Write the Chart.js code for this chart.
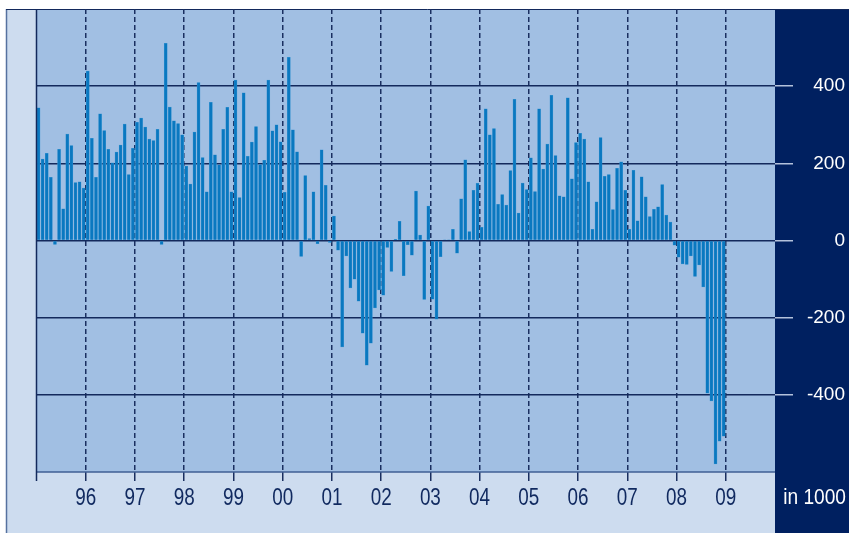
<!DOCTYPE html>
<html lang="en">
<head>
  <meta charset="UTF-8">
  <title>Monthly change in employment</title>
  <style>
    body {
      margin: 0;
      background: #fff;
    }
    #chart {
      display: block;
    }
  </style>
</head>
<body>
  <canvas id="chart" width="849" height="533"></canvas>

  <script src="https://cdn.jsdelivr.net/npm/chart.js"></script>
  <script>
    // monthly change, in 1000, Jan..Dec of each year
    const y1995 = [344, 211, 226, 164, -10, 236, 82, 276, 246, 150, 152, 136];
    const y1996 = [439, 265, 164, 328, 285, 236, 201, 229, 247, 302, 171, 239];
    const y1997 = [306, 317, 294, 263, 259, 288, -10, 511, 346, 310, 303, 274];
    const y1998 = [193, 146, 281, 409, 215, 126, 358, 222, 196, 288, 345, 126];
    const y1999 = [416, 111, 383, 218, 255, 295, 197, 208, 416, 284, 300, 256];
    const y2000 = [125, 475, 287, 230, -41, 168, 5, 126, -8, 235, 143, -5];
    const y2001 = [63, -25, -276, -40, -123, -100, -157, -240, -323, -266, -175, -128];
    const y2002 = [-142, -18, -80, 3, 50, -91, -11, -38, 128, 14, -153, 89];
    const y2003 = [-152, -204, -42, 2, 2, 29, -33, 108, 209, 23, 130, 148];
    const y2004 = [34, 341, 274, 290, 94, 119, 92, 181, 366, 71, 149, 132];
    const y2005 = [214, 127, 341, 185, 250, 376, 220, 116, 113, 370, 160, 254];
    const y2006 = [278, 263, 152, 29, 100, 267, 166, 171, 80, 187, 204, 130];
    const y2007 = [29, 182, 51, 165, 113, 62, 81, 87, 145, 66, 48, -12];
    const y2008 = [-43, -61, -62, -40, -93, -63, -120, -396, -416, -579, -520, -507];

    const yearLabels = ['96', '97', '98', '99', '00', '01', '02', '03', '04', '05', '06', '07', '08', '09'];
    const valueTicks = [-400, -200, 0, 200, 400];
    const unitLabel = 'in 1000';

    const allMonths = [].concat(y1995, y1996, y1997, y1998, y1999, y2000, y2001,
      y2002, y2003, y2004, y2005, y2006, y2007, y2008);
    // month number on a linear axis, bar sits in the middle of its month
    const points = allMonths.map((v, i) => ({ x: i + 0.5, y: v }));

    const NAVY = '#002060';
    const LIGHT = '#cddcef';
    const PLOT = '#a1bfe3';
    const LINE = '#13295c';
    const FONT = '"Liberation Sans", Arial, sans-serif';

    // draw text squeezed sideways, the original uses a narrow face
    function narrowText(ctx, text, x, y, size, squeeze, align) {
      ctx.save();
      ctx.translate(x, y);
      ctx.scale(squeeze, 1);
      ctx.font = size + 'px ' + FONT;
      ctx.textAlign = align;
      ctx.textBaseline = 'alphabetic';
      ctx.fillText(text, 0, 0);
      ctx.restore();
    }

    // backgrounds, frame, axis lines, year labels, unit text
    const framePlugin = {
      id: 'frame',
      beforeDraw(chart) {
        const { ctx, chartArea: a, width, height } = chart;
        ctx.save();
        ctx.fillStyle = '#fff';
        ctx.fillRect(0, 0, width, height);
        ctx.fillStyle = LIGHT;
        ctx.fillRect(6, a.top, a.right - 6, height - a.top);
        ctx.fillStyle = PLOT;
        ctx.fillRect(a.left, a.top, a.right - a.left, a.bottom - a.top);
        ctx.fillStyle = NAVY;
        ctx.fillRect(a.right, a.top, width - a.right, height - a.top);

        ctx.strokeStyle = '#56719f';
        ctx.lineWidth = 1.5;
        ctx.beginPath();
        ctx.moveTo(6.5, a.top);
        ctx.lineTo(6.5, height);
        ctx.stroke();

        ctx.strokeStyle = LINE;
        ctx.lineWidth = 1;
        ctx.beginPath();
        ctx.moveTo(6, a.top + 0.5);
        ctx.lineTo(width, a.top + 0.5);
        ctx.stroke();
        ctx.restore();
      },
      afterDatasetsDraw(chart) {
        const { ctx, chartArea: a } = chart;
        ctx.save();
        ctx.strokeStyle = '#3f5f94';
        ctx.lineWidth = 1.5;
        ctx.beginPath();
        ctx.moveTo(a.left, a.bottom);
        ctx.lineTo(a.right, a.bottom);
        ctx.stroke();

        ctx.strokeStyle = LINE;
        ctx.beginPath();
        ctx.moveTo(a.left, a.top);
        ctx.lineTo(a.left, a.bottom + 9);
        ctx.stroke();
        ctx.restore();
      },
      afterDraw(chart) {
        const { ctx, width } = chart;
        const xs = chart.scales.x;
        ctx.save();
        ctx.fillStyle = '#10295f';
        yearLabels.forEach((lab, k) => {
          narrowText(ctx, lab, xs.getPixelForValue((k + 1) * 12), 505, 23, 0.82, 'center');
        });
        ctx.fillStyle = '#fff';
        narrowText(ctx, unitLabel, width - 3, 504, 22, 0.87, 'right');
        ctx.restore();
      }
    };

    new Chart(document.getElementById('chart'), {
      type: 'bar',
      data: {
        datasets: [{
          data: points,
          backgroundColor: '#0a78c0',
          borderColor: '#3a95d2',
          borderWidth: 0.5,
          barThickness: 3
        }]
      },
      options: {
        responsive: false,
        animation: false,
        devicePixelRatio: 1,
        layout: { padding: { left: 36.5, top: 9, right: 4, bottom: 0 } },
        plugins: {
          legend: { display: false },
          tooltip: { enabled: false }
        },
        scales: {
          x: {
            type: 'linear',
            offset: false,
            min: 0,
            max: 180,
            afterBuildTicks: scale => {
              scale.ticks = yearLabels.map((_, k) => ({ value: (k + 1) * 12 }));
            },
            afterFit: scale => {
              scale.height = 61;
              scale.paddingLeft = 0;
              scale.paddingRight = 0;
            },
            ticks: { display: false },
            grid: {
              offset: false,
              color: '#1a2f60',
              lineWidth: 1.5,
              tickLength: 9,
              tickColor: '#1a2f60',
              tickWidth: 1.5
            },
            border: { display: false, dash: [5, 3] }
          },
          y: {
            position: 'right',
            min: -600,
            max: 600,
            afterBuildTicks: scale => {
              scale.ticks = valueTicks.map(v => ({ value: v }));
            },
            afterFit: scale => {
              scale.width = 70;
              scale.paddingTop = 0;
              scale.paddingBottom = 0;
            },
            ticks: {
              color: '#ffffff',
              crossAlign: 'far',
              padding: 5,
              font: { family: FONT, size: 19 }
            },
            grid: {
              color: LINE,
              lineWidth: 1.5,
              tickLength: 18,
              tickColor: '#b4c2dc',
              tickWidth: 1.5
            },
            border: { display: false }
          }
        }
      },
      plugins: [framePlugin]
    });
  </script>
</body>
</html>
